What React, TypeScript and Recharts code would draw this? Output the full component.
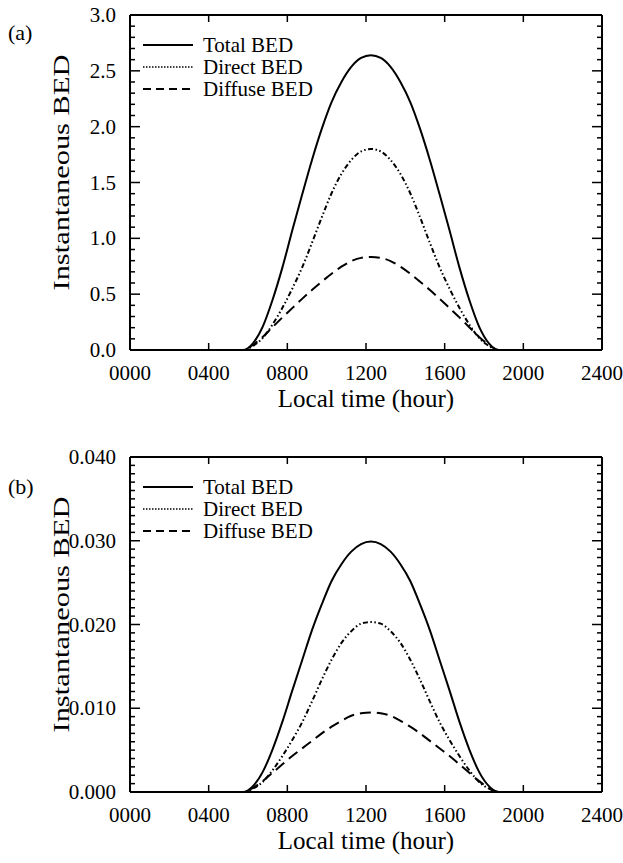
import { LineChart, Line, XAxis, YAxis } from 'recharts';

// local time as HHMM on a 0-2400 scale, sampled every half hour around the noon peak
const hours = [0, 575, 625, 675, 725, 775, 825, 875, 925, 975, 1025, 1075, 1125, 1175, 1225, 1275, 1325, 1375, 1425, 1475, 1525, 1575, 1625, 1675, 1725, 1775, 1825, 1875, 2400];

// panel (a)
const totalA = [0, 0, 0.06, 0.21, 0.45, 0.74, 1.07, 1.39, 1.7, 1.98, 2.22, 2.4, 2.535, 2.615, 2.64, 2.615, 2.535, 2.4, 2.22, 1.98, 1.7, 1.39, 1.07, 0.74, 0.45, 0.21, 0.06, 0, 0];
const directA = [0, 0, 0.036, 0.108, 0.229, 0.378, 0.549, 0.738, 0.958, 1.188, 1.404, 1.577, 1.701, 1.778, 1.8, 1.778, 1.701, 1.577, 1.404, 1.188, 0.958, 0.738, 0.549, 0.378, 0.229, 0.108, 0.036, 0, 0];
const diffuseA = [0, 0, 0.046, 0.117, 0.204, 0.292, 0.375, 0.458, 0.537, 0.612, 0.683, 0.746, 0.796, 0.825, 0.833, 0.825, 0.796, 0.746, 0.683, 0.612, 0.537, 0.458, 0.375, 0.292, 0.204, 0.117, 0.046, 0, 0];

// panel (b)
const totalB = [0, 0, 0.0007, 0.0024, 0.0051, 0.0084, 0.0121, 0.0157, 0.0193, 0.0224, 0.0252, 0.0272, 0.0287, 0.0296, 0.0299, 0.0296, 0.0287, 0.0272, 0.0252, 0.0224, 0.0193, 0.0157, 0.0121, 0.0084, 0.0051, 0.0024, 0.0007, 0, 0];
const directB = [0, 0, 0.0004, 0.0012, 0.0026, 0.0043, 0.0062, 0.0083, 0.0108, 0.0134, 0.0158, 0.0178, 0.0192, 0.0201, 0.0203, 0.0201, 0.0192, 0.0178, 0.0158, 0.0134, 0.0108, 0.0083, 0.0062, 0.0043, 0.0026, 0.0012, 0.0004, 0, 0];
const diffuseB = [0, 0, 0.0005, 0.0013, 0.0023, 0.0033, 0.0043, 0.0052, 0.0061, 0.007, 0.0078, 0.0085, 0.0091, 0.0094, 0.0095, 0.0094, 0.0091, 0.0085, 0.0078, 0.007, 0.0061, 0.0052, 0.0043, 0.0033, 0.0023, 0.0013, 0.0005, 0, 0];

const xTicks = [0, 400, 800, 1200, 1600, 2000, 2400];
const xTickLabels = ['0000', '0400', '0800', '1200', '1600', '2000', '2400'];
const yMajorA = [0, 0.5, 1, 1.5, 2, 2.5, 3];
const yMajorB = [0, 0.01, 0.02, 0.03, 0.04];
const yMinorA = Array.from({ length: 31 }, (_, i) => +(i * 0.1).toFixed(1));
const yMinorB = Array.from({ length: 41 }, (_, i) => +(i * 0.001).toFixed(3));

const seriesNames = ['Total BED', 'Direct BED', 'Diffuse BED'];

const FONT = '"Liberation Serif", "Times New Roman", serif';
const DASH_DIRECT = '5 2.5 1.5 2.5 1.5 2.5';
const DASH_DIFFUSE = '11 6';

const isMajor = (v: number, majors: number[]) => majors.some((m) => Math.abs(m - v) < 1e-9);

function BottomTick(props: any) {
  const { x, y, payload } = props;
  const i = xTicks.indexOf(payload.value);
  return (
    <g>
      <line x1={x} y1={y} x2={x} y2={y - 7} stroke="#000" strokeWidth={1.5} />
      <text x={x} y={y + 23} textAnchor="middle" dominantBaseline="central" fontSize={21} fontFamily={FONT} fill="#000">
        {xTickLabels[i]}
      </text>
    </g>
  );
}

function TopTick(props: any) {
  const { x, y } = props;
  return <line x1={x} y1={y} x2={x} y2={y + 7} stroke="#000" strokeWidth={1.5} />;
}

function LeftTick(props: any) {
  const { x, y, payload, majors, digits } = props;
  const major = isMajor(payload.value, majors);
  return (
    <g>
      <line x1={x} y1={y} x2={x + (major ? 10 : 5)} y2={y} stroke="#000" strokeWidth={1.5} />
      {major && (
        <text x={x - 14} y={y} textAnchor="end" dominantBaseline="central" fontSize={21} fontFamily={FONT} fill="#000">
          {payload.value.toFixed(digits)}
        </text>
      )}
    </g>
  );
}

function RightTick(props: any) {
  const { x, y, payload, majors } = props;
  const major = isMajor(payload.value, majors);
  return <line x1={x} y1={y} x2={x - (major ? 10 : 5)} y2={y} stroke="#000" strokeWidth={1.5} />;
}

function LegendBox({ left, top }: { left: number; top: number }) {
  const rows = [
    { name: seriesNames[0], dash: undefined, w: 2 },
    { name: seriesNames[1], dash: '1.5 1.5', w: 1.5 },
    { name: seriesNames[2], dash: '8 5', w: 2 },
  ];
  return (
    <div style={{ position: 'absolute', left, top, fontFamily: FONT, fontSize: 21, lineHeight: '22px' }}>
      {rows.map((r) => (
        <div key={r.name} style={{ display: 'flex', alignItems: 'center', height: 22 }}>
          <svg width={63} height={22}>
            <line x1={3} y1={11} x2={53} y2={11} stroke="#000" strokeWidth={r.w} strokeDasharray={r.dash} />
          </svg>
          <span>{r.name}</span>
        </div>
      ))}
    </div>
  );
}

function Panel(props: {
  top: number;
  height: number;
  margin: { top: number; right: number; bottom: number; left: number };
  tag: string;
  tagTop: number;
  total: number[];
  direct: number[];
  diffuse: number[];
  yMax: number;
  majors: number[];
  minors: number[];
  digits: number;
}) {
  const { top, height, margin, tag, tagTop, total, direct, diffuse, yMax, majors, minors, digits } = props;
  const data = hours.map((t, i) => ({ t, total: total[i], direct: direct[i], diffuse: diffuse[i] }));
  const plotTop = margin.top + 1;
  const plotBottom = height - margin.bottom - 60;
  return (
    <div style={{ position: 'absolute', left: 0, top, width: 623, height }}>
      <LineChart width={623} height={height} data={data} margin={margin}>
        <XAxis
          xAxisId="b"
          dataKey="t"
          type="number"
          domain={[0, 2400]}
          allowDataOverflow
          ticks={xTicks}
          interval={0}
          height={60}
          tickSize={0}
          tickMargin={0}
          tickLine={false}
          axisLine={{ stroke: '#000', strokeWidth: 2 }}
          tick={BottomTick}
          label={(p: any) => {
            const vb = p.viewBox;
            return (
              <text x={vb.x + vb.width / 2} y={vb.y + 48} textAnchor="middle" dominantBaseline="central" fontSize={25} fontFamily={FONT} fill="#000">
                Local time (hour)
              </text>
            );
          }}
        />
        <XAxis
          xAxisId="t"
          dataKey="t"
          orientation="top"
          type="number"
          domain={[0, 2400]}
          allowDataOverflow
          ticks={xTicks}
          interval={0}
          height={1}
          tickSize={0}
          tickMargin={0}
          tickLine={false}
          axisLine={{ stroke: '#000', strokeWidth: 2 }}
          tick={TopTick}
        />
        <YAxis
          yAxisId="l"
          type="number"
          domain={[0, yMax]}
          allowDataOverflow
          ticks={minors}
          interval={0}
          width={130}
          tickSize={0}
          tickMargin={0}
          tickLine={false}
          axisLine={{ stroke: '#000', strokeWidth: 2 }}
          tick={(p: any) => <LeftTick {...p} majors={majors} digits={digits} />}
          label={() => {
            const cx = 61;
            const cy = (plotTop + plotBottom) / 2 - 10;
            return (
              <text
                x={cx}
                y={cy}
                transform={`rotate(-90, ${cx}, ${cy})`}
                textAnchor="middle"
                dominantBaseline="central"
                fontSize={24}
                fontFamily={FONT}
                fill="#000"
                textLength={236}
                lengthAdjust="spacingAndGlyphs"
              >
                Instantaneous BED
              </text>
            );
          }}
        />
        <YAxis
          yAxisId="r"
          orientation="right"
          type="number"
          domain={[0, yMax]}
          allowDataOverflow
          ticks={minors}
          interval={0}
          width={1}
          tickSize={0}
          tickMargin={0}
          tickLine={false}
          axisLine={{ stroke: '#000', strokeWidth: 2 }}
          tick={(p: any) => <RightTick {...p} majors={majors} />}
        />
        <Line xAxisId="b" yAxisId="l" type="monotone" dataKey="total" name={seriesNames[0]} stroke="#000" strokeWidth={2} dot={false} isAnimationActive={false} />
        <Line xAxisId="b" yAxisId="l" type="monotone" dataKey="direct" name={seriesNames[1]} stroke="#000" strokeWidth={2} strokeDasharray={DASH_DIRECT} dot={false} isAnimationActive={false} />
        <Line xAxisId="b" yAxisId="l" type="monotone" dataKey="diffuse" name={seriesNames[2]} stroke="#000" strokeWidth={2} strokeDasharray={DASH_DIFFUSE} dot={false} isAnimationActive={false} />
      </LineChart>
      <LegendBox left={140} top={plotTop + 19} />
      <div style={{ position: 'absolute', left: 8, top: tagTop, fontFamily: FONT, fontSize: 22, lineHeight: '24px' }}>{tag}</div>
    </div>
  );
}

export default function App() {
  return (
    <div style={{ position: 'absolute', left: 0, top: 0, width: 623, height: 863, background: '#fff' }}>
      <Panel
        top={0}
        height={430}
        margin={{ top: 14, right: 20, bottom: 20, left: 0 }}
        tag="(a)"
        tagTop={21}
        total={totalA}
        direct={directA}
        diffuse={diffuseA}
        yMax={3}
        majors={yMajorA}
        minors={yMinorA}
        digits={1}
      />
      <Panel
        top={430}
        height={433}
        margin={{ top: 26, right: 20, bottom: 11, left: 0 }}
        tag="(b)"
        tagTop={45}
        total={totalB}
        direct={directB}
        diffuse={diffuseB}
        yMax={0.04}
        majors={yMajorB}
        minors={yMinorB}
        digits={3}
      />
    </div>
  );
}
